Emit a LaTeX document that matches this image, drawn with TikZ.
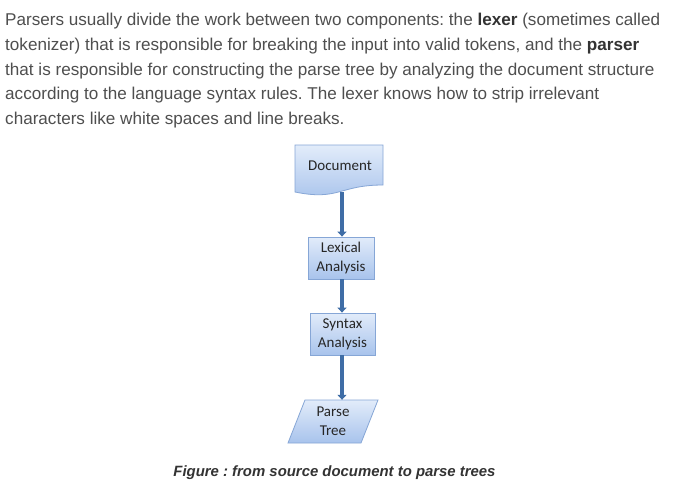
\documentclass[tikz,border=0pt]{standalone}
\usepackage{fontspec}
\setmainfont{Liberation Sans}
\newfontfamily\boxfont{Carlito}
\usetikzlibrary{arrows.meta}
\definecolor{paragray}{HTML}{4F4F4F}
\definecolor{boldgray}{HTML}{333333}
\definecolor{boxtop}{HTML}{E2ECFA}
\definecolor{boxbot}{HTML}{A8C3EC}
\definecolor{boxedge}{HTML}{86A6D6}
\definecolor{arrowblue}{HTML}{3F6DA6}
\frenchspacing
\begin{document}
\begin{tikzpicture}[x=1pt,y=-1pt,
  para/.style={anchor=base west, inner sep=0pt, font=\fontsize{17.1}{20}\selectfont, text=paragray},
  flowfill/.style={draw=boxedge, line width=0.8pt, top color=boxtop, bottom color=boxbot},
  flowtext/.style={font=\boxfont\fontsize{15}{19}\selectfont, align=center, inner sep=0pt, text=black!85},
  flowbox/.style={flowfill, flowtext},
  flowarrow/.style={draw=arrowblue, line width=4pt, -{Triangle[width=9pt,length=5pt]}}
]
\useasboundingbox (0,0) rectangle (673,493);
\fill[white] (0,0) rectangle (673,493);

% paragraph
\node[para] (l1) at (5,25) {Parsers usually divide the work between two components: the {\bfseries\color{boldgray}lexer} (sometimes called};
\node[para] (l2) at (5,50) {tokenizer) that is responsible for breaking the input into valid tokens, and the {\bfseries\color{boldgray}parser}};
\node[para] (l3) at (5,75) {that is responsible for constructing the parse tree by analyzing the document structure};
\node[para] (l4) at (5,99.5) {according to the language syntax rules. The lexer knows how to strip irrelevant};
\node[para] (l5) at (5,124) {characters like white spaces and line breaks.};

% Document shape
\path[flowfill] (295,145) -- (383,145) -- (383,185)
  .. controls (339,185) and (339,201) .. (295,192) -- cycle;
\node[flowtext] (doc) at (340,166) {Document};
\coordinate (docbot) at (342,192);

% Lexical analysis
\node[flowbox, minimum width=66pt, minimum height=42pt] (lex) at (341,258) {Lexical\\Analysis};
% Syntax analysis
\node[flowbox, minimum width=65pt, minimum height=42pt] (syn) at (342.5,334) {Syntax\\Analysis};

% Parse tree parallelogram
\path[flowfill] (305,400) -- (378,400) -- (361,443) -- (288,443) -- cycle;
\node[flowtext, minimum height=43pt] (tree) at (333,421.5) {Parse\\Tree};

% arrows
\draw[flowarrow] (docbot) -- (docbot |- lex.north);
\draw[flowarrow] (docbot |- lex.south) -- (docbot |- syn.north);
\draw[flowarrow] (docbot |- syn.south) -- (docbot |- tree.north);

% caption
\node[anchor=base, inner sep=0pt, font=\fontsize{14.9}{17}\selectfont\bfseries\itshape, text=boldgray] (cap) at (334.5,476) {Figure : from source document to parse trees};
\end{tikzpicture}
\end{document}
